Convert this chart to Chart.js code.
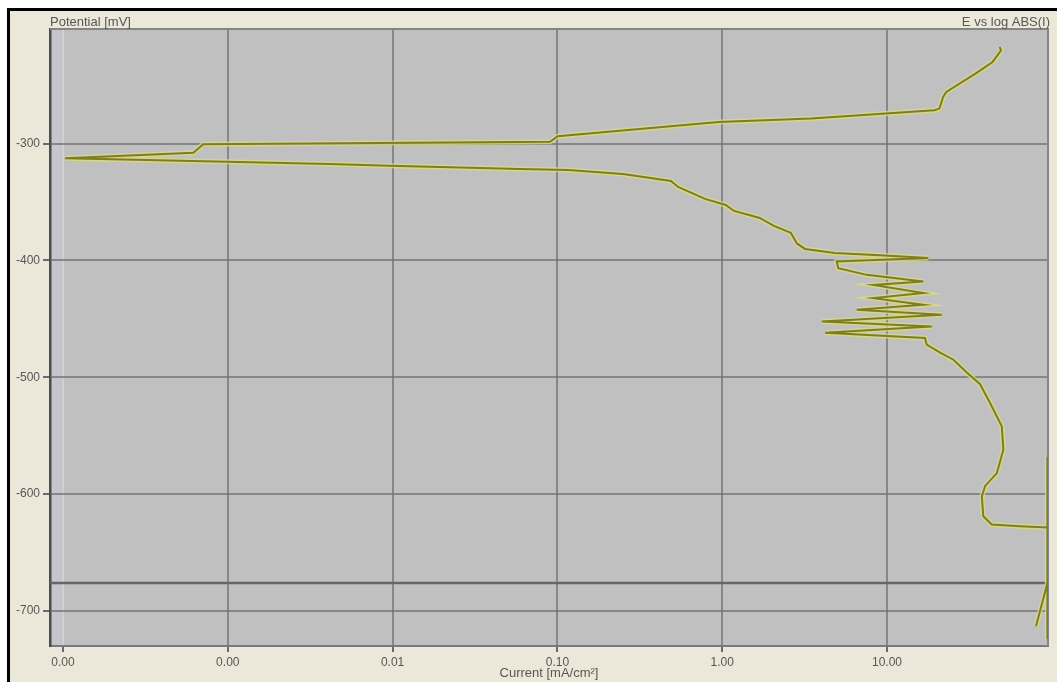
<!DOCTYPE html>
<html>
<head>
<meta charset="utf-8">
<script src="https://cdn.jsdelivr.net/npm/chart.js@4.4.0/dist/chart.umd.min.js"></script>
<style>
    html, body { margin: 0; padding: 0; background: #fff; }
    #wrap { width: 1057px; height: 682px; }
</style>
</head>
<body>
<div id="wrap"><canvas id="grafico" width="1057" height="682"></canvas></div>
<script>
// Curva E vs log|I|, na ordem da varredura
// corrente em mA/cm², potencial em mV
const corrente = [
    80.2, 94, 94, 94, 94, 64.1, 43.2, 38.4, 37.6, 39.4,
    46.4, 50.8, 49.7, 42.2, 36.7, 30.5, 25.3, 21.0, 17.4, 17.0,
    4.21, 18.7, 4.02, 21.5, 6.55, 16.6, 8.26, 16.6, 8.26, 16.6,
    7.54, 5.06, 4.95, 17.8, 9.06, 4.83, 3.18, 2.84, 2.61, 2.06,
    1.69, 1.18, 1.05, 0.787, 0.540, 0.489, 0.250, 0.116, 0.0593, 0.0096,
    0.00417, 0.000984, 0.000103, 0.000618, 0.00071, 0.0902, 0.1004, 0.951, 3.46, 19.4,
    20.8, 21.9, 22.9, 34.4, 43.7, 49.2, 48.2
];
const potencial = [
    -713, -676, -724, -568, -628.6, -627.5, -626.1, -619, -602, -593,
    -582, -562, -542, -522, -506, -496, -485, -479, -472, -466.5,
    -462, -456.6, -452.3, -446.6, -442.3, -438, -432.3, -428, -421, -418,
    -412.4, -406.7, -401, -398, -395.7, -393.6, -390.2, -385.5, -376.5, -370.5,
    -363.7, -357.7, -352.6, -347.4, -337.2, -332.1, -326.1, -322.6, -321.8, -319,
    -317.5, -315.6, -312.6, -307.9, -300.7, -298.5, -293.8, -281.5, -278.6, -271.5,
    -270.1, -260.1, -255.8, -240.2, -230.2, -220.3, -217.4
];

const xTicks = [0.0001, 0.001, 0.01, 0.1, 1, 10];
const yTicks = [-700, -600, -500, -400, -300];
const xMin = 8.34e-5, xMax = 94.8;
const yMin = -730, yMax = -202;
const linhaCursor = -676; // linha horizontal escura

const corTexto = '#565656';
const corGrade = 'rgba(112,112,112,0.72)';
const fonte = { family: '"Liberation Sans", Arial, sans-serif', size: 12 };
const fonteTitulo = { family: '"Liberation Sans", Arial, sans-serif', size: 13 };

const pontos = corrente.map((c, i) => ({ x: c, y: potencial[i] }));

// fundo, moldura e textos fixos do gráfico
const moldura = {
    id: 'moldura',
    beforeDraw(chart) {
        const { ctx, chartArea: a, width, height } = chart;
        ctx.save();
        ctx.fillStyle = '#fff';
        ctx.fillRect(0, 0, width, height);
        ctx.fillStyle = '#ece8d9';
        ctx.fillRect(10, 11, width - 10, height - 11);
        ctx.fillStyle = '#000';
        ctx.fillRect(7, 8, width - 7, 3);
        ctx.fillRect(7, 8, 3, height - 8);
        ctx.fillStyle = '#c0c0c0';
        ctx.fillRect(a.left, a.top, a.right - a.left, a.bottom - a.top);
        ctx.fillStyle = 'rgba(200,200,212,0.55)';
        ctx.fillRect(a.left + 2, a.top, 9, a.bottom - a.top);
        ctx.restore();
    },
    beforeDatasetsDraw(chart) {
        const { ctx, chartArea: a } = chart;
        ctx.save();
        ctx.strokeStyle = '#858585';
        ctx.lineWidth = 2;
        ctx.beginPath();
        ctx.moveTo(a.left, a.top);
        ctx.lineTo(a.right, a.top);
        ctx.lineTo(a.right, a.bottom);
        ctx.stroke();
        ctx.restore();
    },
    afterDraw(chart) {
        const { ctx, chartArea: a } = chart;
        ctx.save();
        ctx.font = '13px "Liberation Sans", Arial, sans-serif';
        ctx.fillStyle = corTexto;
        ctx.textBaseline = 'middle';
        ctx.textAlign = 'left';
        ctx.fillText('Potential [mV]', a.left, 22);
        ctx.textAlign = 'right';
        ctx.fillText('E vs log ABS(I)', a.right + 2, 22);
        ctx.restore();
    }
};

new Chart(document.getElementById('grafico'), {
    type: 'scatter',
    data: {
        datasets: [
            {
                data: pontos,
                showLine: true,
                borderColor: '#7d7d22',
                borderWidth: 2,
                pointRadius: 0,
                tension: 0
            },
            {
                data: pontos,
                showLine: true,
                borderColor: 'rgba(220,220,125,0.75)',
                borderWidth: 5,
                pointRadius: 0,
                tension: 0
            },
            {
                data: [{ x: xMin, y: linhaCursor }, { x: xMax, y: linhaCursor }],
                showLine: true,
                borderColor: '#666',
                borderWidth: 2.5,
                pointRadius: 0
            }
        ]
    },
    options: {
        responsive: false,
        animation: false,
        events: [],
        layout: { padding: { left: 0, right: 9, top: 29, bottom: 0 } },
        plugins: { legend: { display: false }, tooltip: { enabled: false } },
        scales: {
            x: {
                type: 'logarithmic',
                min: xMin,
                max: xMax,
                afterBuildTicks: s => { s.ticks = xTicks.map(v => ({ value: v })); },
                afterFit: s => { s.height = 36; },
                ticks: {
                    callback: v => Number(v).toFixed(2),
                    color: corTexto,
                    font: fonte,
                    padding: 3,
                    maxRotation: 0,
                    autoSkip: false
                },
                grid: {
                    color: c => c.index === 0 ? 'rgba(215,215,226,0.7)' : corGrade,
                    lineWidth: 2,
                    tickLength: 6,
                    tickColor: '#6a6a6a'
                },
                border: { color: '#7a7a7a', width: 2 },
                title: {
                    display: true,
                    text: 'Current [mA/cm²]',
                    color: corTexto,
                    font: fonteTitulo,
                    padding: { top: 0, bottom: 1 }
                }
            },
            y: {
                type: 'linear',
                min: yMin,
                max: yMax,
                afterBuildTicks: s => { s.ticks = yTicks.map(v => ({ value: v })); },
                afterFit: s => { s.width = 50; },
                ticks: { color: corTexto, font: fonte, padding: 3 },
                grid: { color: corGrade, lineWidth: 2, tickLength: 7, tickColor: '#6a6a6a' },
                border: { color: '#4d4d4d', width: 2.5 }
            }
        }
    },
    plugins: [moldura]
});
</script>
</body>
</html>
